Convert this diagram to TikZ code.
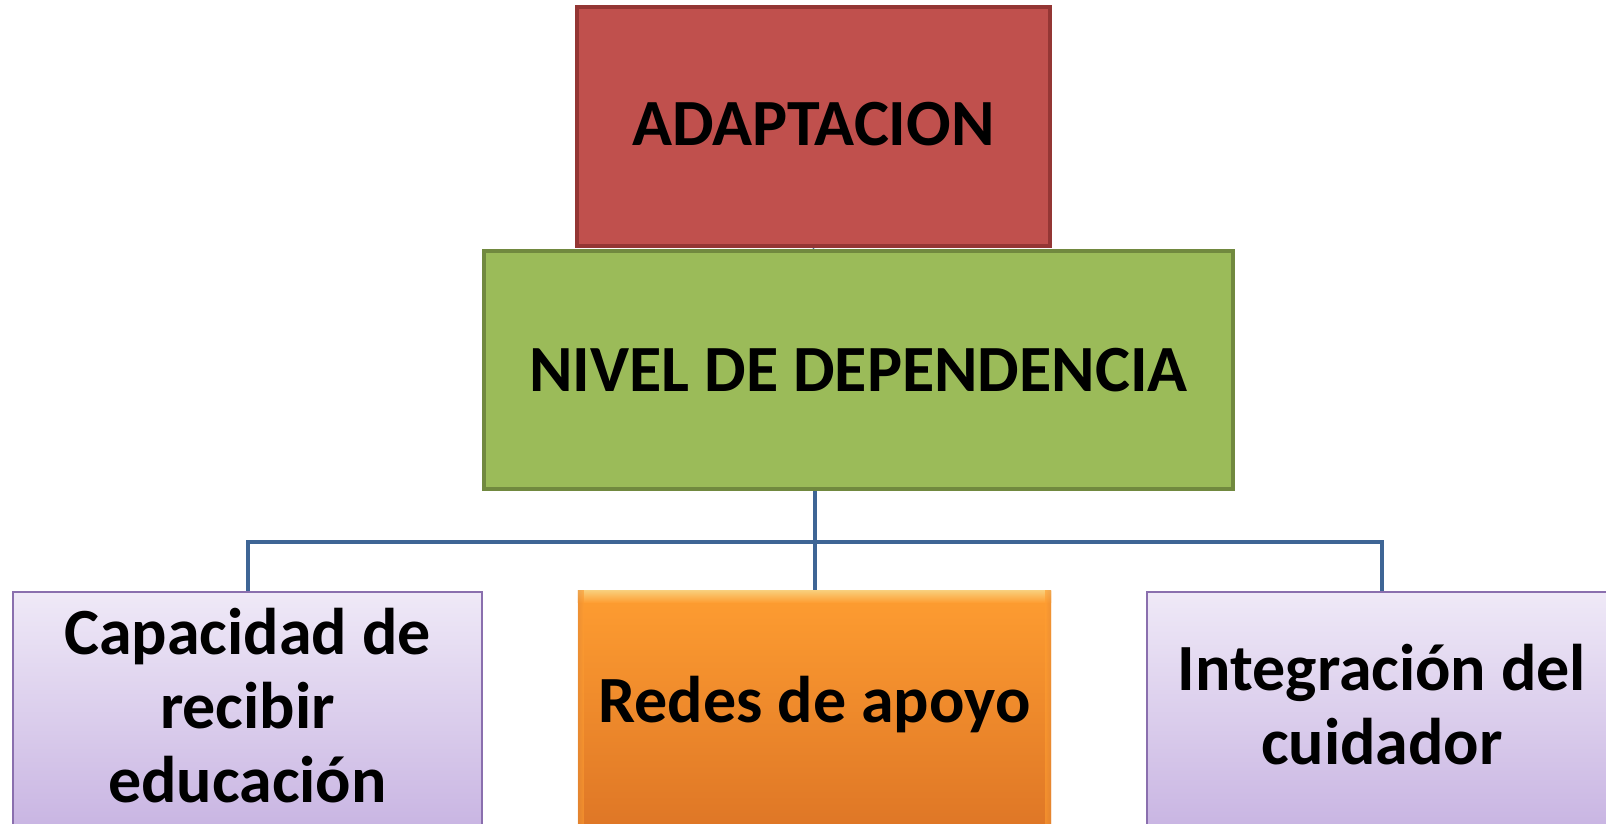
\documentclass[tikz,border=0pt]{standalone}
\usepackage{fontspec}
\setmainfont{Carlito}
\usetikzlibrary{arrows.meta,backgrounds}
\definecolor{redfill}{HTML}{C0504D}
\definecolor{redline}{HTML}{943634}
\definecolor{greenfill}{HTML}{9BBB59}
\definecolor{greenline}{HTML}{71893F}
\definecolor{liltop}{HTML}{EFE9F7}
\definecolor{lilbot}{HTML}{C8B4E2}
\definecolor{lilline}{HTML}{8A6FAE}
\definecolor{orgtop}{HTML}{FE9D31}
\definecolor{orgbot}{HTML}{DE7626}
\definecolor{orghi}{HTML}{F9CD78}
\definecolor{orgedge}{HTML}{E58A35}
\definecolor{connblue}{HTML}{3E6595}
\tikzset{
  x=1pt, y=-1pt,
  boxtext/.style={font=\fontsize{66}{74}\selectfont\bfseries, align=center, text=black, inner sep=0pt},
  redbox/.style={draw=redline, fill=redfill, line width=4pt, minimum width=473pt, minimum height=239pt, inner sep=0pt},
  greenbox/.style={draw=greenline, fill=greenfill, line width=4pt, minimum width=749pt, minimum height=238pt, inner sep=0pt},
  lilacbox/.style={draw=lilline, top color=liltop, bottom color=lilbot, line width=2pt, minimum width=469pt, minimum height=240pt, inner sep=0pt},
  orangebox/.style={top color=orgtop, bottom color=orgbot, minimum width=473pt, minimum height=240pt, inner sep=0pt},
  conn/.style={draw=connblue, line width=4pt},
}
\begin{document}
\begin{tikzpicture}
\useasboundingbox (0,0) rectangle (1606,824);
\clip (0,0) rectangle (1606,824);
% top boxes
\node[redbox] (adapt) at (813.5,126.5) {};
\node[boxtext] (adapttxt) at (813.5,124) {ADAPTACION};
\node[greenbox] (nivel) at (858.5,370) {};
\node[boxtext] (niveltxt) at (858.5,370) {NIVEL DE DEPENDENCIA};
% bottom boxes
\node[lilacbox] (cap) at (247.5,712) {};
\node[boxtext] (captxt) at (247.5,706) {Capacidad de\\recibir\\educación};
\node[orangebox] (redes) at (814.5,711) {};
\shade[top color=orghi, bottom color=orgtop] (redes.north west) rectangle ([yshift=-12pt]redes.north east);
\shade[left color=orgedge, right color=orgtop, opacity=0.6] (redes.north west) rectangle ([xshift=6pt]redes.south west);
\shade[right color=orgedge, left color=orgtop, opacity=0.6] ([xshift=-6pt]redes.north east) rectangle (redes.south east);
\node[boxtext] (redestxt) at (814.5,705) {Redes de apoyo};
\node[lilacbox, minimum width=470pt] (integ) at (1382,712) {};
\node[boxtext] (integtxt) at (1382,705) {Integración del\\cuidador};
\coordinate (bus) at (814,542);
\begin{scope}[on background layer]
\fill[white] (0,0) rectangle (1606,824);
\draw[conn] (nivel.south -| redes.north) -- (redes.north);
\draw[conn] (cap.north) |- (bus) -| (integ.north);
\draw[conn, -{Triangle[length=10pt,width=22pt]}] (nivel.north -| adapt.south) -- (adapt.south);
\end{scope}
\end{tikzpicture}
\end{document}
